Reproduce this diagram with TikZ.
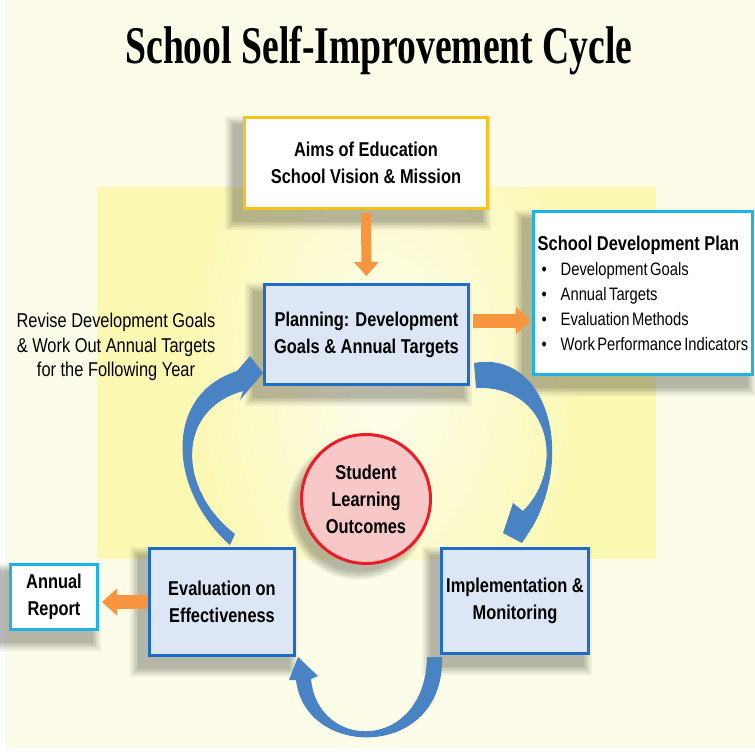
\documentclass[tikz,border=0pt]{standalone}
\usepackage{fontspec}
\setmainfont{Liberation Sans}[FakeStretch=0.82]
\newfontfamily\titlefont{Liberation Serif}[FakeStretch=0.71]
\newfontfamily\listfont{Liberation Sans}[FakeStretch=0.82,WordSpace=0.6]
\usetikzlibrary{arrows.meta}

\definecolor{cream}{HTML}{FCFCE8}
\definecolor{paleyellow}{HTML}{FBF8B2}
\definecolor{boxblue}{HTML}{DCE6F4}
\definecolor{edgeblue}{HTML}{1E6CC8}
\definecolor{edgecyan}{HTML}{1FB2E6}
\definecolor{edgegold}{HTML}{F6C21C}
\definecolor{arroworange}{HTML}{F7963F}
\definecolor{cycleblue}{HTML}{4A83C3}
\definecolor{outcomepink}{HTML}{F8C7C7}
\definecolor{outcomered}{HTML}{EC1C24}

\pgfdeclarelayer{ground}
\pgfdeclarelayer{shade}
\pgfsetlayers{ground,shade,main}

\newcommand\dropshade[1]{%
  \foreach \s in {1,...,6}{
    \fill[black,opacity=0.05]
      ([xshift={-4pt-\s*0.8pt},yshift={-5pt-\s*0.8pt}]#1.south west) rectangle
      ([xshift={-4pt+\s*0.8pt},yshift={-5pt+\s*0.8pt}]#1.north east);}}
\newcommand\planitem{\hspace*{2pt}\makebox[9.5pt][l]{\textbullet}}

\tikzset{
  stagebox/.style={draw=edgeblue,line width=1.5pt,fill=boxblue,align=center,inner sep=0pt,
    font=\fontsize{10}{13.5}\selectfont\bfseries},
  plainbox/.style={stagebox,draw=edgecyan,fill=white},
  feedarrow/.style={draw=arroworange,line width=7pt,-{Triangle[width=13pt,length=7.5pt]}},
  cyclearrow/.style={fill=cycleblue}
}

\begin{document}
\begin{tikzpicture}[x=0.5pt,y=-0.5pt]
  \useasboundingbox (0,0) rectangle (755,751);
  \begin{pgfonlayer}{ground}
    \fill[white] (0,0) rectangle (755,751);
    \fill[cream] (5,0) rectangle (755,748);
    \fill[paleyellow] (97,187) rectangle (656,559);
    \clip (97,187) rectangle (656,559);
    \shade[inner color=white!80!paleyellow,outer color=paleyellow] (385,370) ellipse [x radius=100pt,y radius=170pt];
  \end{pgfonlayer}

  \node[anchor=base,font=\titlefont\bfseries\fontsize{26.5}{30}\selectfont] (title) at (379,63)
    {School Self-Improvement Cycle};

  \node[plainbox,draw=edgegold,minimum width=121.5pt,minimum height=45.5pt] (aims) at (366,163)
    {Aims of Education\\School Vision \& Mission};
  \node[stagebox,minimum width=102pt,minimum height=50pt] (plan) at (366.5,334.5)
    {Planning: Development\\Goals \& Annual Targets};
  \node[plainbox,minimum width=109.5pt,minimum height=81.5pt,align=left,
    font=\listfont\fontsize{9}{12.5}\selectfont] (sdp) at (643,293)
    {{\rmfamily\bfseries\fontsize{10}{12}\selectfont School Development Plan}\\
     \planitem Development Goals\\
     \planitem Annual Targets\\
     \planitem Evaluation Methods\\
     \planitem Work Performance Indicators};
  \node[stagebox,circle,draw=outcomered,fill=outcomepink,minimum size=64.5pt] (outcome) at (366,499)
    {Student\\Learning\\Outcomes};
  \node[stagebox,minimum width=72.5pt,minimum height=53.5pt] (eval) at (222,602)
    {Evaluation on\\Effectiveness};
  \node[stagebox,minimum width=73.5pt,minimum height=52.5pt] (impl) at (515,601)
    {Implementation \&\\Monitoring};
  \node[plainbox,minimum width=43.5pt,minimum height=32.5pt] (report) at (54,597)
    {Annual\\Report};
  \node[align=center,font=\fontsize{10}{12.25}\selectfont] (revise) at (116,347)
    {Revise Development Goals\\\& Work Out Annual Targets\\for the Following Year};

  \begin{pgfonlayer}{shade}
    \dropshade{aims}
    \dropshade{plan}
    \dropshade{sdp}
    \dropshade{eval}
    \dropshade{impl}
    \dropshade{report}
    \foreach \s in {1,...,6}
      \fill[black,opacity=0.05] ([xshift=-4pt,yshift=-5pt]outcome.center) circle [radius={30.5pt+\s*0.8pt}];
  \end{pgfonlayer}

  \draw[feedarrow,line width=5pt,-{Triangle[width=12pt,length=7pt]},shorten <=1.5pt,shorten >=3.5pt]
    (aims.south) -- (plan.north);
  \draw[feedarrow,shorten <=1.5pt,shorten >=0.5pt]
    ([yshift=7pt]plan.east) -- ([yshift=7pt]plan.east -| sdp.west);
  \draw[feedarrow,shorten >=1.5pt] (eval.west) -- (eval.west -| report.east);

  \fill[cyclearrow] (474,363) .. controls (545,350) and (575,450) .. (533,526) -- (522,543)
    -- (503,533) -- (513,503) -- (523,511) .. controls (565,470) and (552,385) .. (476,388) -- cycle;
  \fill[cyclearrow] (442,657) .. controls (445,760) and (305,760) .. (296,680) -- (289,680)
    -- (298,657) -- (318,676) -- (311,679) .. controls (318,752) and (425,752) .. (427,657) -- cycle;
  \fill[cyclearrow] (230,545) .. controls (168,490) and (163,395) .. (237,371) -- (250,356)
    -- (263,373) -- (240,400) -- (243,391) .. controls (175,410) and (178,490) .. (235,534) -- cycle;
\end{tikzpicture}
\end{document}
